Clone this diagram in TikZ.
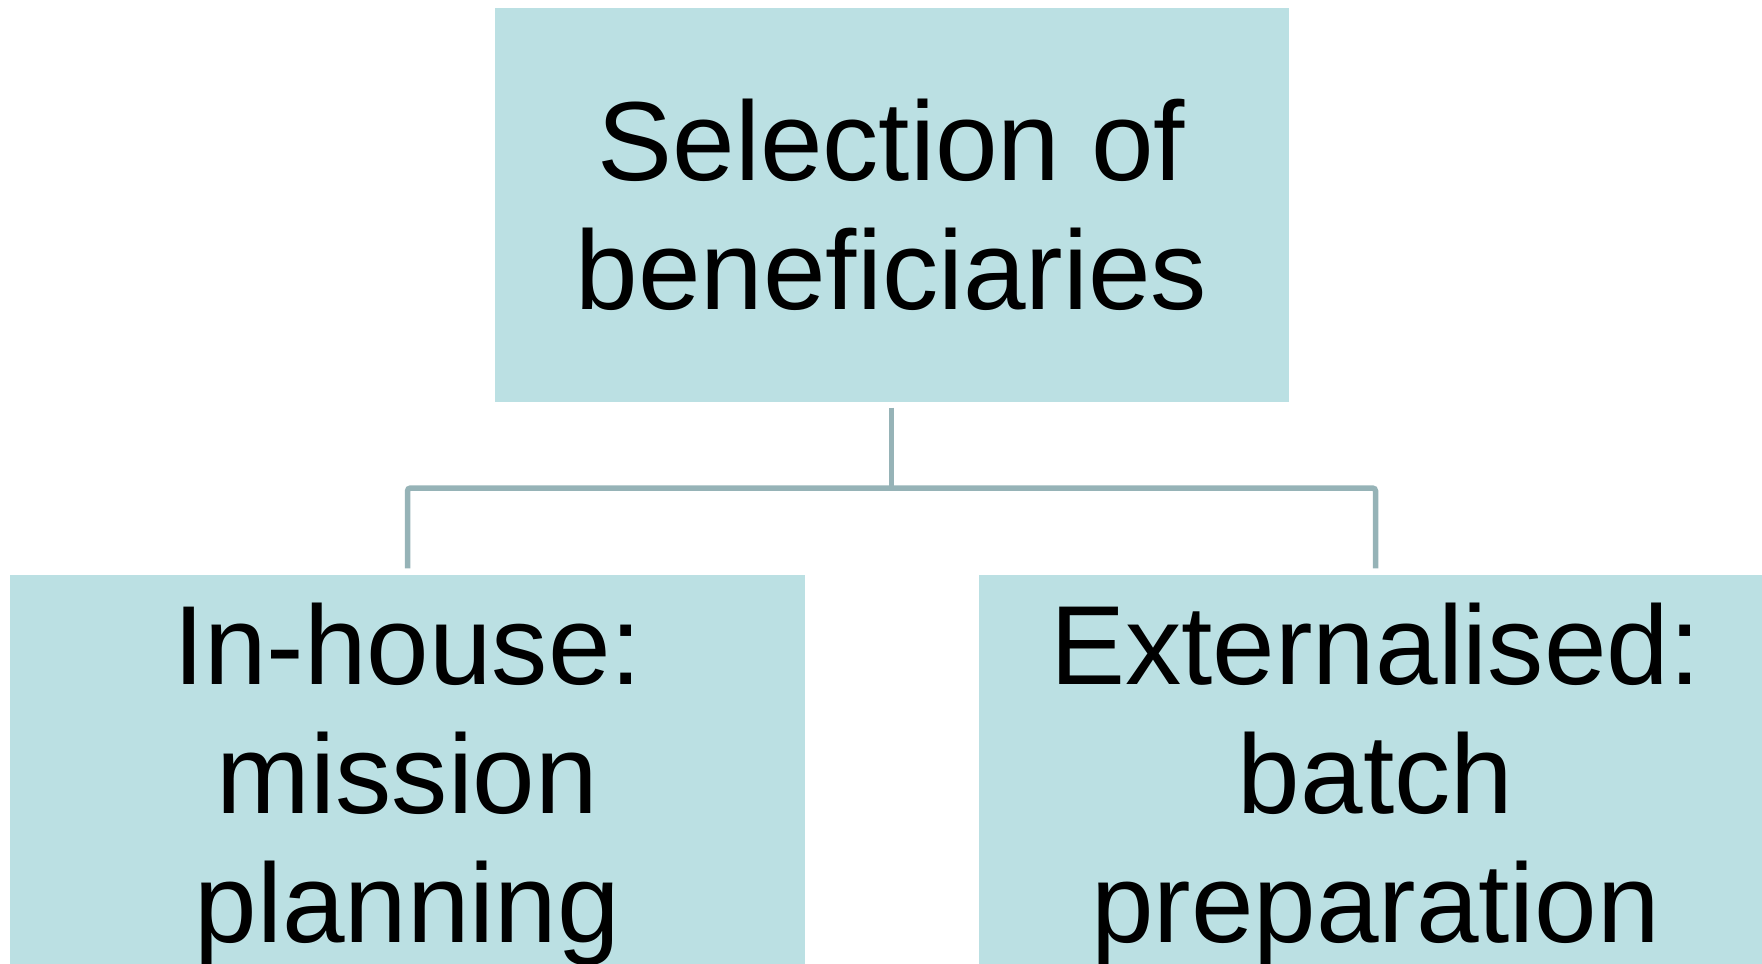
\documentclass[tikz,border=0pt]{standalone}
\usepackage{fontspec}
\setmainfont{Liberation Sans}
\usepackage{tikz}
\usetikzlibrary{positioning}
\tikzset{box/.style = {fill=boxfill, minimum width=7.94cm, minimum height=3.94cm, inner sep=0, align=center, font=\fontsize{32}{36.7}\selectfont}}
\tikzset{link/.style = {draw=linkgray, line width=0.055cm, rounded corners=0.03cm}}
\definecolor{boxfill}{HTML}{BBE0E3}
\definecolor{linkgray}{HTML}{96B3B7}

\begin{document}
\begin{tikzpicture}
      \useasboundingbox (0, 0) rectangle (17.62, -9.63);
      \clip (0, 0) rectangle (17.62, -9.63);
      \node [box] (select) at (8.915, -2.05) {Selection of\\beneficiaries};
      \node [box, minimum height=4.18cm] (inhouse) at (4.075, -7.84) {In-house:\\mission\\planning};
      \node [box, minimum height=4.18cm] (extern) at (13.755, -7.84) {Externalised:\\batch\\preparation};
      \coordinate (fork) at (8.915, -4.88);
      \draw [link] ([yshift=-0.05cm]select.south) -- (fork);
      \draw [link] ([yshift=0.06cm]inhouse.north) |- (fork) -| ([yshift=0.06cm]extern.north);
    \end{tikzpicture}
\end{document}
